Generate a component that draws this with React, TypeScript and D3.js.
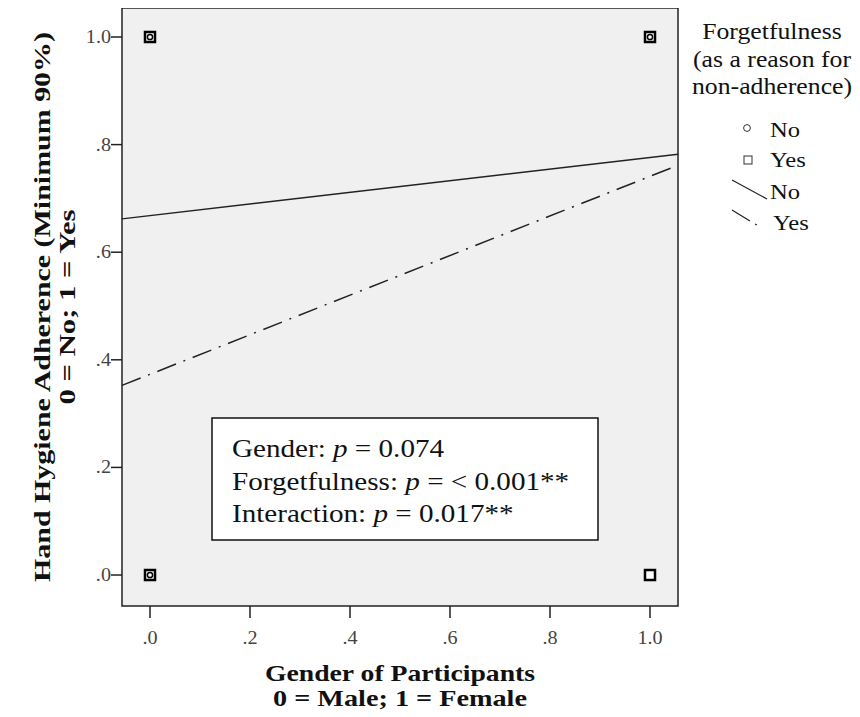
import React, { useEffect, useRef } from 'react';
import * as d3 from 'd3';

// fitted lines: predicted value at gender 0 and gender 1
const genders = [0, 1];
const fitNo = [0.668, 0.776];
const fitYes = [0.373, 0.741];

// observed points (gender, adherence) per forgetfulness group
const pointsNo = [[0, 1], [1, 1], [0, 0]];
const pointsYes = [[0, 1], [1, 1], [0, 0], [1, 0]];

const xTicks = [0, 0.2, 0.4, 0.6, 0.8, 1.0];
const yTicks = [0, 0.2, 0.4, 0.6, 0.8, 1.0];
const tickFmt = (v: number) => (v === 1 ? '1.0' : d3.format('.1f')(v).replace(/^0/, ''));

const stats = [
	{ label: 'Gender: ', value: ' = 0.074' },
	{ label: 'Forgetfulness: ', value: ' = < 0.001**' },
	{ label: 'Interaction: ', value: ' = 0.017**' },
];
const legendTitle = ['Forgetfulness', '(as a reason for', 'non-adherence)'];

const serif = '"Liberation Serif", "Times New Roman", serif';
const SX = 1.12; // the source picture is a little wide

function Chart() {
	const ref = useRef<SVGSVGElement>(null);

	useEffect(() => {
		const svg = d3.select(ref.current);
		svg.selectAll('*').remove();

		const left = 122, right = 678, top = 8, bottom = 606;
		const xScale = d3.scaleLinear().domain([-0.056, 1.056]).range([left, right]);
		const yScale = d3.scaleLinear().domain([-0.0576, 1.0539]).range([bottom, top]);

		const g = svg.append('g');

		// text drawn with a small horizontal stretch
		const label = (parent: any, x: number, y: number, txt: string, font: string, anchor = 'start', fill = '#111') =>
			parent.append('text')
				.attr('transform', `translate(${x},${y}) scale(${SX},1)`)
				.attr('text-anchor', anchor)
				.style('font', font).attr('fill', fill)
				.text(txt);

		// plot background
		g.append('rect')
			.attr('x', left).attr('y', top)
			.attr('width', right - left).attr('height', bottom - top)
			.attr('fill', '#f0f0f0').attr('stroke', '#222').attr('stroke-width', 1.5);

		// y axis ticks
		yTicks.forEach(t => {
			g.append('line')
				.attr('x1', left - 11).attr('x2', left)
				.attr('y1', yScale(t)).attr('y2', yScale(t))
				.attr('stroke', '#222').attr('stroke-width', 1.5);
			label(g, left - 11, yScale(t) + 6, tickFmt(t), `18px ${serif}`, 'end', '#444');
		});
		// x axis ticks
		xTicks.forEach(t => {
			g.append('line')
				.attr('x1', xScale(t)).attr('x2', xScale(t))
				.attr('y1', bottom).attr('y2', bottom + 12)
				.attr('stroke', '#222').attr('stroke-width', 1.5);
			label(g, xScale(t), bottom + 38, tickFmt(t), `18px ${serif}`, 'middle', '#444');
		});

		// fit lines, extended across the plot
		const extend = (fit: number[]) => {
			const slope = (fit[1] - fit[0]) / (genders[1] - genders[0]);
			const [x0, x1] = xScale.domain();
			return [[x0, fit[0] + slope * (x0 - genders[0])], [x1, fit[0] + slope * (x1 - genders[0])]];
		};
		const line = d3.line<number[]>().x(d => xScale(d[0])).y(d => yScale(d[1]));
		g.append('path').datum(extend(fitNo)).attr('d', line)
			.attr('stroke', '#222').attr('stroke-width', 1.5).attr('fill', 'none');
		g.append('path').datum(extend(fitYes)).attr('d', line)
			.attr('stroke', '#222').attr('stroke-width', 1.5).attr('fill', 'none')
			.attr('stroke-dasharray', '20,8,2,8');

		// markers
		g.selectAll('rect.yes').data(pointsYes).enter().append('rect')
			.attr('class', 'yes')
			.attr('x', d => xScale(d[0]) - 5).attr('y', d => yScale(d[1]) - 5)
			.attr('width', 10).attr('height', 10)
			.attr('fill', '#fff').attr('stroke', '#000').attr('stroke-width', 2.5);
		g.selectAll('circle.no').data(pointsNo).enter().append('circle')
			.attr('class', 'no')
			.attr('cx', d => xScale(d[0])).attr('cy', d => yScale(d[1]))
			.attr('r', 2.6)
			.attr('fill', '#fff').attr('stroke', '#000').attr('stroke-width', 1.5);

		// annotation box
		g.append('rect')
			.attr('x', 212).attr('y', 418).attr('width', 386).attr('height', 122)
			.attr('fill', '#fff').attr('stroke', '#111').attr('stroke-width', 1.5);
		stats.forEach((s, i) => {
			const t = g.append('text')
				.attr('transform', `translate(232,${457 + i * 32.5}) scale(${SX},1)`)
				.style('font', `26px ${serif}`).attr('fill', '#111');
			t.append('tspan').text(s.label);
			t.append('tspan').style('font-style', 'italic').text('p');
			t.append('tspan').text(s.value);
		});

		// axis titles
		g.append('text').attr('x', 400).attr('y', 681).attr('text-anchor', 'middle')
			.attr('textLength', 270).attr('lengthAdjust', 'spacingAndGlyphs')
			.style('font', `bold 24px ${serif}`).attr('fill', '#111')
			.text('Gender of Participants');
		g.append('text').attr('x', 400).attr('y', 706).attr('text-anchor', 'middle')
			.attr('textLength', 254).attr('lengthAdjust', 'spacingAndGlyphs')
			.style('font', `bold 24px ${serif}`).attr('fill', '#111')
			.text('0 = Male; 1 = Female');

		const yt = g.append('g').attr('transform', 'translate(0,307) rotate(-90)');
		yt.append('text').attr('x', 0).attr('y', 50).attr('text-anchor', 'middle')
			.attr('textLength', 550).attr('lengthAdjust', 'spacingAndGlyphs')
			.style('font', `bold 23px ${serif}`).attr('fill', '#111')
			.text('Hand Hygiene Adherence (Minimum 90%)');
		yt.append('text').attr('x', 0).attr('y', 75).attr('text-anchor', 'middle')
			.attr('textLength', 195).attr('lengthAdjust', 'spacingAndGlyphs')
			.style('font', `bold 23px ${serif}`).attr('fill', '#111')
			.text('0 = No; 1 = Yes');

		// legend
		const lg = g.append('g');
		legendTitle.forEach((s, i) => label(lg, 772, 39 + i * 27.5, s, `23px ${serif}`, 'middle'));
		lg.append('circle').attr('cx', 747).attr('cy', 128).attr('r', 3.4)
			.attr('fill', 'none').attr('stroke', '#333').attr('stroke-width', 1);
		lg.append('rect').attr('x', 744).attr('y', 156).attr('width', 8).attr('height', 8)
			.attr('fill', 'none').attr('stroke', '#333').attr('stroke-width', 1);
		lg.append('line').attr('x1', 732).attr('y1', 180).attr('x2', 767).attr('y2', 199)
			.attr('stroke', '#222').attr('stroke-width', 1.2);
		lg.append('line').attr('x1', 732).attr('y1', 210).attr('x2', 760).attr('y2', 227)
			.attr('stroke', '#222').attr('stroke-width', 1.2).attr('stroke-dasharray', '21,6,2,6');
		[['No', 770, 137], ['Yes', 770, 167], ['No', 770, 199], ['Yes', 773, 230]].forEach(d => {
			label(lg, d[1] as number, d[2] as number, d[0] as string, `22px ${serif}`);
		});
	}, []);

	return <svg ref={ref} width={860} height={717} />;
}

export default function App() {
	return (
		<div style={{ margin: -8 }}>
			<Chart />
		</div>
	);
}
